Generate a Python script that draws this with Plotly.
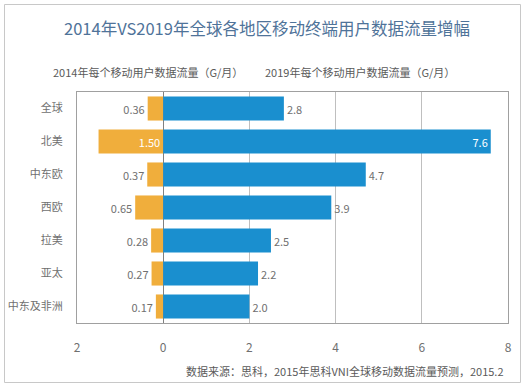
import plotly.graph_objects as go

categories = ["全球", "北美", "中东欧", "西欧", "拉美", "亚太", "中东及非洲"]
values_2014 = [0.36, 1.50, 0.37, 0.65, 0.28, 0.27, 0.17]
values_2019 = [2.8, 7.6, 4.7, 3.9, 2.5, 2.2, 2.0]
tick_vals = [-2, 0, 2, 4, 6, 8]
tick_text = ["2", "0", "2", "4", "6", "8"]

title = "2014年VS2019年全球各地区移动终端用户数据流量增幅"
label_2014 = "2014年每个移动用户数据流量（G/月）"
label_2019 = "2019年每个移动用户数据流量（G/月）"
source = "数据来源：思科，2015年思科VNI全球移动数据流量预测，2015.2"

FONT = "Noto Sans CJK SC"
ORANGE = "#F0AE3C"
BLUE = "#1A8FCF"
GREY_TXT = "#707070"

W, H = 526, 388
L, R, T, B = 77, 18, 92, 65
pw, ph = W - L - R, H - T - B

def px_to_paper_x(x):
    return (x - L) / pw

def px_to_paper_y(y):
    return (H - B - y) / ph

pos_2014 = ["inside" if v >= 1.0 else "outside" for v in values_2014]
pos_2019 = ["inside" if v >= 7.0 else "outside" for v in values_2019]
col_2014 = ["white" if p == "inside" else GREY_TXT for p in pos_2014]
col_2019 = ["white" if p == "inside" else GREY_TXT for p in pos_2019]

fig = go.Figure()
fig.add_trace(go.Bar(
    y=categories, x=[-v for v in values_2014], orientation="h",
    marker=dict(color=ORANGE, line=dict(width=0)),
    text=[f"{v:.2f}" for v in values_2014], textposition=pos_2014,
    insidetextanchor="start",
    textfont=dict(family=FONT, size=11, color=col_2014),
    cliponaxis=False, hoverinfo="skip",
))
fig.add_trace(go.Bar(
    y=categories, x=values_2019, orientation="h",
    marker=dict(color=BLUE, line=dict(width=0)),
    text=[f"{v:.1f}" for v in values_2019], textposition=pos_2019,
    insidetextanchor="end",
    textfont=dict(family=FONT, size=11, color=col_2019),
    cliponaxis=False, hoverinfo="skip",
))

fig.update_layout(
    width=W, height=H,
    margin=dict(l=L, r=R, t=T, b=B, autoexpand=False),
    paper_bgcolor="white", plot_bgcolor="white",
    barmode="relative", bargap=0.27,
    showlegend=False,
    font=dict(family=FONT, size=12, color=GREY_TXT),
    xaxis=dict(
        range=[-2, 8], tickvals=tick_vals, ticktext=tick_text,
        showgrid=True, gridcolor="#BFBFBF", gridwidth=1,
        zeroline=True, zerolinecolor="#808080", zerolinewidth=1,
        showline=True, linecolor="#A0A0A0", mirror=True,
        ticks="", ticklabelstandoff=14, automargin=False,
        tickfont=dict(family=FONT, size=12, color=GREY_TXT),
        fixedrange=True,
    ),
    yaxis=dict(
        categoryorder="array", categoryarray=categories,
        autorange="reversed",
        showgrid=False, showline=True, linecolor="#A0A0A0", mirror=True,
        ticks="", ticklabelstandoff=11, automargin=False,
        tickfont=dict(family=FONT, size=11, color=GREY_TXT),
        fixedrange=True,
    ),
    annotations=[
        dict(text=title, xref="paper", yref="paper",
             x=px_to_paper_x(267), y=px_to_paper_y(28),
             xanchor="center", yanchor="middle", showarrow=False,
             font=dict(family=FONT, size=16.5, color="#4F7399")),
        dict(text=label_2014, xref="paper", yref="paper",
             x=px_to_paper_x(148), y=px_to_paper_y(72),
             xanchor="center", yanchor="middle", showarrow=False,
             font=dict(family=FONT, size=11, color="#5A5A5A")),
        dict(text=label_2019, xref="paper", yref="paper",
             x=px_to_paper_x(360), y=px_to_paper_y(72),
             xanchor="center", yanchor="middle", showarrow=False,
             font=dict(family=FONT, size=11, color="#5A5A5A")),
        dict(text=source, xref="paper", yref="paper",
             x=px_to_paper_x(506), y=px_to_paper_y(371),
             xanchor="right", yanchor="middle", showarrow=False,
             font=dict(family=FONT, size=11, color="#5A5A5A")),
    ],
    shapes=[
        dict(type="rect", xref="paper", yref="paper",
             x0=px_to_paper_x(4.5), x1=px_to_paper_x(520.5),
             y0=px_to_paper_y(382.5), y1=px_to_paper_y(4.5),
             line=dict(color="#C8C8C8", width=1), fillcolor="rgba(0,0,0,0)",
             layer="below"),
    ],
)

fig.write_html(
    "out.html",
    config={"displayModeBar": False, "staticPlot": True},
    post_script="document.body.style.margin='0';document.body.style.overflow='hidden';",
)
